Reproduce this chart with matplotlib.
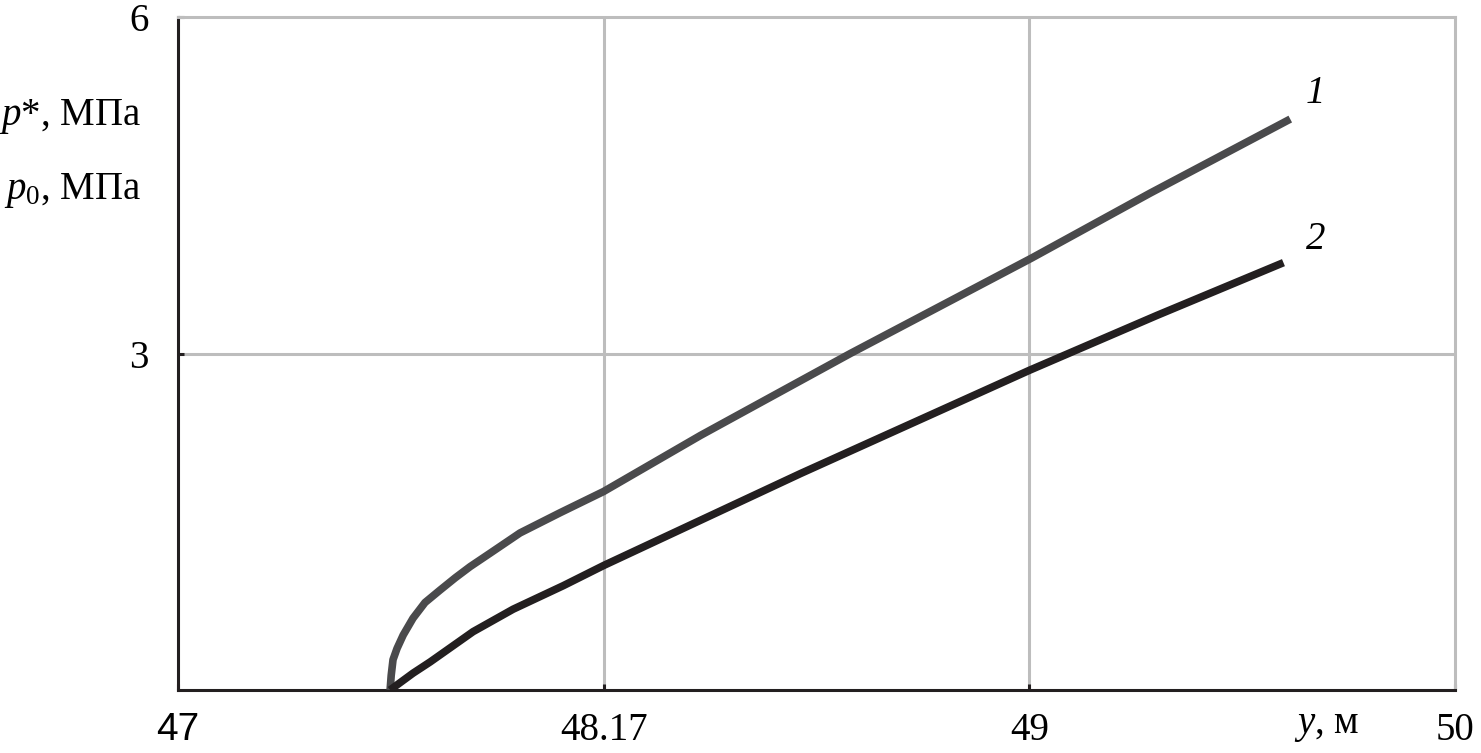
import numpy as np
import matplotlib
matplotlib.use("Agg")
import matplotlib.pyplot as plt

plt.rcParams["font.family"] = ["Liberation Serif", "DejaVu Serif"]
plt.rcParams["mathtext.fontset"] = "custom"
plt.rcParams["mathtext.rm"] = "Liberation Serif"
plt.rcParams["mathtext.it"] = "Liberation Serif:italic"

# tick values on the (non-uniform) y axis in metres
x_ticks = [47, 48.17, 49, 50]
y_ticks = [3, 6]

# curve 1: p*, MPa
y1 = [47.583, 47.586, 47.591, 47.602, 47.619, 47.646, 47.679, 47.720, 47.762, 47.803,
      47.858, 47.940, 48.050, 48.17, 48.359, 48.651, 49.005, 49.284, 49.613]
p1 = [0.0, 0.13, 0.27, 0.37, 0.49, 0.64, 0.78, 0.89, 1.00, 1.10,
      1.22, 1.40, 1.58, 1.77, 2.27, 3.00, 3.85, 4.43, 5.09]

# curve 2: p0, MPa
y2 = [47.583, 47.646, 47.693, 47.811, 47.921, 48.059, 48.17, 48.554, 49.0, 49.3, 49.597]
p2 = [0.0, 0.15, 0.25, 0.52, 0.72, 0.93, 1.11, 1.93, 2.85, 3.34, 3.81]

pos = [0, 1, 2, 3]
fwd = lambda v: np.interp(v, x_ticks, pos)
inv = lambda v: np.interp(v, pos, x_ticks)

fig = plt.figure(figsize=(14.81, 7.53), dpi=100)
ax = fig.add_axes([178 / 1481, 63 / 753, 1277 / 1481, 673 / 753])
ax.set_xscale("function", functions=(fwd, inv))

grid_c = "#bdbdbd"
for v in [48.17, 49]:
    ax.axvline(v, color=grid_c, lw=2.2, zorder=1)
ax.axhline(3, color=grid_c, lw=2.2, zorder=1)

ax.plot(y1, p1, color="#4a4a4c", lw=5.5, zorder=3, solid_capstyle="butt", solid_joinstyle="round")
ax.plot(y2, p2, color="#231f20", lw=5.5, zorder=3, solid_capstyle="butt", solid_joinstyle="round")

ax.set_xlim(47, 50)
ax.set_ylim(0, 6)
ax.set_xticks(x_ticks)
ax.set_xticklabels(["47", "48.17", "49", "50"])
ax.get_xticklabels()[0].set_family(["Liberation Sans"])
ax.set_yticks(y_ticks)
ax.set_yticklabels(["3", "6"])
ax.tick_params(axis="both", direction="in", length=4, width=2.2, color="#231f20", labelsize=28)
ax.tick_params(axis="x", pad=16)
ax.tick_params(axis="y", pad=21)

for s in ["left", "bottom"]:
    ax.spines[s].set_color("#231f20")
    ax.spines[s].set_linewidth(2.2)
for s in ["top", "right"]:
    ax.spines[s].set_color(grid_c)
    ax.spines[s].set_linewidth(2.2)

ax.text(49.672, 5.32, "1", fontsize=28, style="italic", ha="center", va="center")
ax.text(49.672, 4.02, "2", fontsize=28, style="italic", ha="center", va="center")

fig.text(141 / 1481, 1 - 117 / 753, "$p$*, МПа", fontsize=28, ha="right", va="center")
fig.text(141 / 1481, 1 - 190 / 753, "$p_0$, МПа", fontsize=28, ha="right", va="center")
fig.text(1327 / 1481, 1 - 725 / 753, "$y$, м", fontsize=28, ha="center", va="center")

fig.savefig("out.png", dpi=100)
